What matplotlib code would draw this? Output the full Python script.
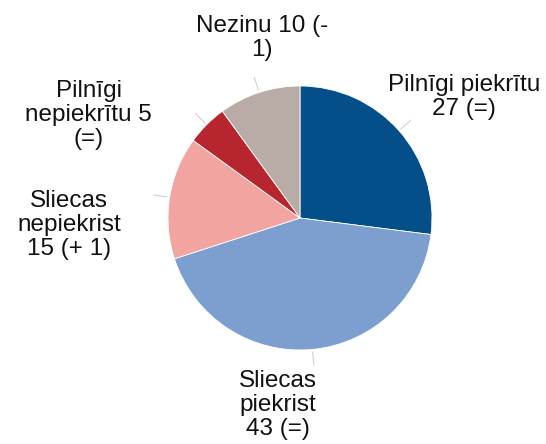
import matplotlib.pyplot as plt
import numpy as np

plt.rcParams['font.family'] = ['Liberation Sans', 'DejaVu Sans']

labels = ["Pilnīgi piekrītu\n27 (=)", "Sliecas\npiekrist\n43 (=)", "Sliecas\nnepiekrist\n15 (+ 1)",
          "Pilnīgi\nnepiekrītu 5\n(=)", "Nezinu 10 (-\n1)"]
values = [27, 43, 15, 5, 10]
colors = ["#044f89", "#7d9fcf", "#f2a5a0", "#b7252e", "#b9aba5"]
# label centre positions, in units of pie radius
label_pos = [(1.245, 0.915), (-0.17, -1.415), (-1.75, -0.05), (-1.6, 0.78), (-0.29, 1.365)]

fig = plt.figure(figsize=(5.46, 4.44), dpi=100)
cx, cy, r = 300, 218, 132
ax = fig.add_axes([(cx - r) / 546, (444 - cy - r) / 444, 2 * r / 546, 2 * r / 444])

wedges, _ = ax.pie(values, colors=colors, startangle=90, counterclock=False,
                   radius=1, wedgeprops=dict(edgecolor="white", linewidth=0.6))
ax.set_xlim(-1, 1)
ax.set_ylim(-1, 1)
ax.set_aspect("equal")
ax.axis("off")

for w, lab, (lx, ly) in zip(wedges, labels, label_pos):
    ang = np.deg2rad((w.theta1 + w.theta2) / 2)
    ax.plot([1.02 * np.cos(ang), 1.12 * np.cos(ang)], [1.02 * np.sin(ang), 1.12 * np.sin(ang)],
            color="#d0d0d0", lw=0.8, clip_on=False)
    ax.text(lx, ly, lab, ha="center", va="center", fontsize=17.5, color="#111111",
            linespacing=1.12, clip_on=False)

fig.savefig("out.png", dpi=100)
